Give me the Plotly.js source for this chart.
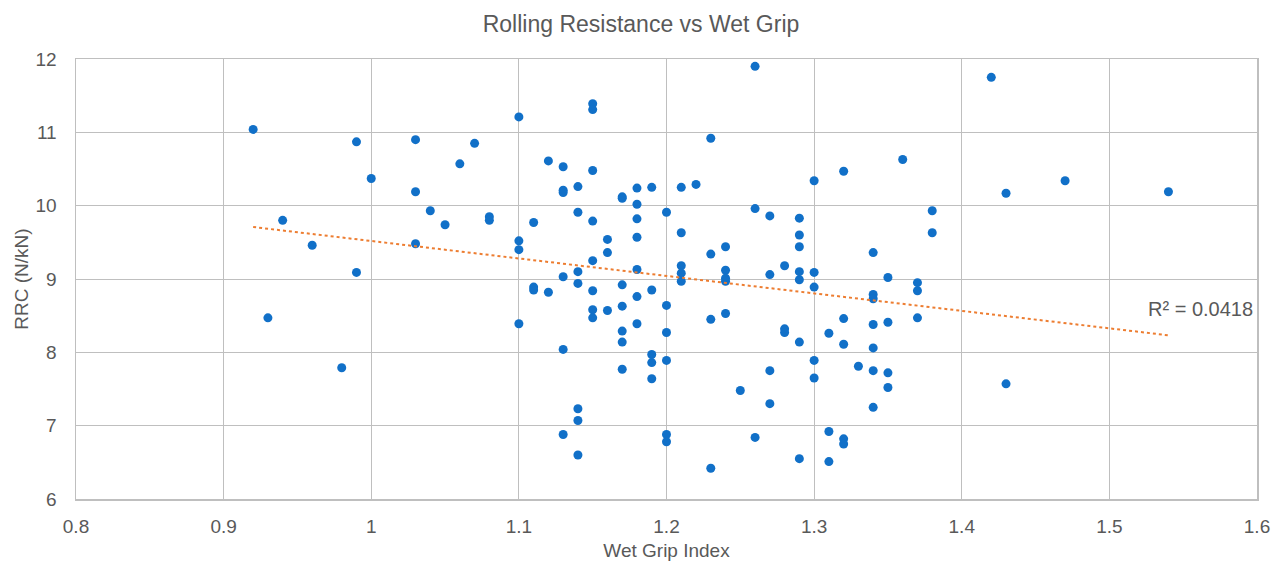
<!DOCTYPE html>
<html>
<head>
<meta charset="utf-8">
<script src="https://cdn.plot.ly/plotly-3.0.1.min.js"></script>
<style>html,body{margin:0;padding:0;background:#fff}#chart{width:1282px;height:561px}</style>
</head>
<body>
<div id="chart"></div>
<script>
const wetGrip = [
  0.92,0.99,1.00,1.03,1.07,1.06,1.03,1.04,1.05,1.08,1.08,0.94,0.96,1.03,0.99,0.93,0.98,
  1.10,1.10,1.10,1.10,
  1.15,1.15,1.12,1.13,1.15,1.13,1.13,1.14,1.17,1.17,1.18,1.19,1.21,1.22,1.18,1.14,1.20,
  1.11,1.15,1.18,1.18,1.21,1.16,1.16,1.15,1.14,1.13,1.14,1.18,1.21,1.21,1.21,
  1.11,1.11,1.12,1.15,1.17,1.19,1.18,1.15,1.15,1.16,1.17,1.18,1.20,1.20,1.17,1.17,
  1.13,1.19,1.19,1.20,1.17,1.19,1.14,1.14,1.13,1.14,1.20,1.20,
  1.26,1.23,1.30,1.32,1.26,1.27,1.29,1.29,1.29,1.24,1.23,1.34,1.28,1.24,1.24,1.24,
  1.27,1.29,1.29,1.30,1.30,1.34,1.34,1.23,1.24,1.28,1.28,1.29,1.31,1.32,1.32,1.34,1.34,
  1.30,1.30,1.33,1.34,1.34,1.27,1.25,1.27,1.26,1.31,1.32,1.32,1.29,1.31,1.23,
  1.42,1.36,1.43,1.47,1.38,1.38,1.35,1.37,1.37,1.35,1.37,1.35,1.35,1.43,1.54
];
const rrc = [
  11.04,10.87,10.37,10.90,10.85,10.57,10.19,9.93,9.74,9.85,9.80,9.80,9.46,9.48,9.09,8.47,7.79,
  11.21,9.52,9.40,8.39,
  11.39,11.31,10.61,10.53,10.48,10.21,10.18,10.26,10.12,10.10,10.24,10.25,10.25,10.29,10.02,9.91,9.91,
  9.77,9.79,9.82,9.57,9.63,9.54,9.36,9.25,9.10,9.03,8.94,9.13,9.18,9.08,8.97,
  8.89,8.85,8.82,8.84,8.92,8.85,8.76,8.58,8.47,8.57,8.63,8.39,8.64,8.27,8.29,8.14,
  8.04,7.97,7.86,7.89,7.77,7.64,7.23,7.07,6.88,6.60,6.88,6.78,
  11.90,10.92,10.34,10.47,9.96,9.86,9.83,9.60,9.44,9.44,9.34,9.36,9.18,9.12,9.01,8.97,
  9.06,9.10,8.99,9.09,8.89,8.79,8.73,8.45,8.53,8.32,8.27,8.14,8.26,8.46,8.11,8.38,8.06,
  7.89,7.65,7.81,7.75,7.25,7.75,7.48,7.30,6.84,6.92,6.82,6.75,6.55,6.51,6.42,
  11.75,10.63,10.17,10.34,9.93,9.63,9.02,8.95,8.84,8.41,8.47,7.72,7.52,7.57,10.19
];
const xTicks = [0.8,0.9,1.0,1.1,1.2,1.3,1.4,1.5,1.6];
const yTicks = [6,7,8,9,10,11,12];
const r2Label = 'R² = 0.0418';

// linear least-squares trendline computed from the data
const n = wetGrip.length;
let sx=0, sy=0, sxx=0, sxy=0;
for (let i=0;i<n;i++){ sx+=wetGrip[i]; sy+=rrc[i]; sxx+=wetGrip[i]*wetGrip[i]; sxy+=wetGrip[i]*rrc[i]; }
const slope = (n*sxy - sx*sy)/(n*sxx - sx*sx);
const intercept = (sy - slope*sx)/n;
const xmin = Math.min(...wetGrip), xmax = Math.max(...wetGrip);
const trendX = [xmin, xmax];
const trendY = trendX.map(v => intercept + slope*v);

const grey = '#595959';
const gridc = '#bfbfbf';

Plotly.newPlot('chart', [
  {x: wetGrip, y: rrc, mode: 'markers', type: 'scatter',
   marker: {color: '#1170c8', size: 9}, hoverinfo: 'x+y'},
  {x: trendX, y: trendY, mode: 'lines', type: 'scatter',
   line: {color: '#ED7D31', width: 2, dash: 'dot'}, hoverinfo: 'skip'}
], {
  width: 1282, height: 561,
  paper_bgcolor: '#fff', plot_bgcolor: '#fff',
  showlegend: false,
  margin: {l: 76, r: 25, t: 59, b: 62},
  font: {family: 'Liberation Sans, Arial, sans-serif', color: grey, size: 19},
  title: {text: 'Rolling Resistance vs Wet Grip', x: 0.5, xanchor: 'center', y: 1 - 24/561, yanchor: 'middle',
          font: {size: 23, color: grey}},
  xaxis: {range: [0.8, 1.6], tickvals: xTicks, ticktext: xTicks.map(v => String(+v.toFixed(1))),
          showgrid: true, gridcolor: gridc, gridwidth: 1, zeroline: false,
          showline: true, linecolor: gridc, linewidth: 1.5, mirror: true, ticks: '',
          ticklabelstandoff: 10, automargin: false,
          tickfont: {size: 19, color: grey},
          title: {text: 'Wet Grip Index', font: {size: 19, color: grey}, standoff: 8}},
  yaxis: {range: [6, 12], tickvals: yTicks,
          showgrid: true, gridcolor: gridc, gridwidth: 1, zeroline: false,
          showline: true, linecolor: gridc, linewidth: 1.5, mirror: true, ticks: '',
          ticklabelstandoff: 14, automargin: false,
          tickfont: {size: 19, color: grey},
          title: {text: 'RRC (N/kN)', font: {size: 19, color: grey}, standoff: 2}},
  annotations: [{x: 1.562, y: 8.59, xref: 'x', yref: 'y', text: r2Label, showarrow: false,
                 xanchor: 'center', yanchor: 'middle', font: {size: 20, color: grey}}]
}, {displayModeBar: false, staticPlot: true});
</script>
</body>
</html>
